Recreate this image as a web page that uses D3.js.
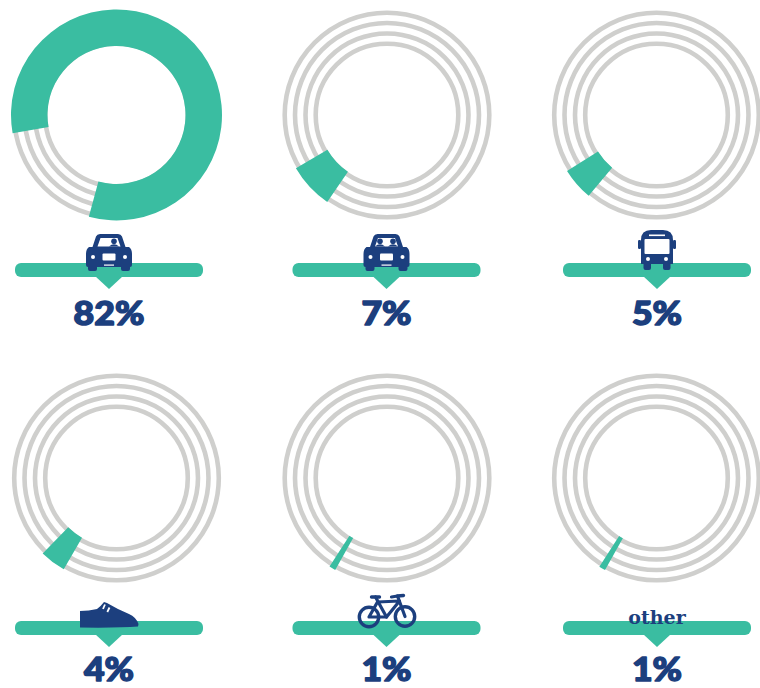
<!DOCTYPE html>
<html>
<head>
<meta charset="utf-8">
<title>How people get to work</title>
<script src="https://cdn.jsdelivr.net/npm/d3@7"></script>
<style>
  html, body { margin: 0; padding: 0; background: #fff; }
  svg { display: block; }
  .pct { font-family: Lato, "Open Sans", sans-serif; font-weight: 900; font-size: 33px; fill: #1c3f7e; stroke: #1c3f7e; stroke-width: 1.5px; stroke-linejoin: round; text-anchor: middle; }
  .word { font-family: "DejaVu Serif", serif; font-weight: 700; font-size: 19px; fill: #1c3f7e; text-anchor: middle; }
</style>
</head>
<body>
<svg id="chart" width="760" height="688"></svg>
<script>
// Commute modes and their share of trips, in percent
const modes = ["car alone", "carpool", "bus", "walk", "bike", "other"];
const shares = [82, 7, 5, 4, 1, 1];
// Where each share's arc begins, in degrees clockwise from twelve o'clock
const arcStarts = [260, 214.5, 220, 210, 209.4, 209.2];
// Centres of the gray track rings
const ringColumns = [116.5, 387, 656.5];
const ringRows = [115, 478];
const trackRadii = [71.3, 81.5, 92, 102.3];

// Label banner layout per grid cell
const bannerLeft = [15, 292.5, 563];
const bannerTop = [263, 621];
const textBaseline = [324.5, 681];

const TEAL = "#3abda1", GRAY = "#cfcfcd", NAVY = "#1c3f7e";
const bannerWidth = 188, bannerHeight = 14;

const angle = d3.scaleLinear().domain([0, 100]).range([0, 2 * Math.PI]);
const band = d3.arc().innerRadius(69).outerRadius(105.5);
const svg = d3.select("#chart");

// Front view of a car; riders sets who sits behind the windscreen
function car(g, riders) {
  g.append("path").attr("fill", NAVY).attr("d",
    "M-16.5,13 L-13,2.5 Q-12,0 -9,0 L9,0 Q12,0 13,2.5 L16.5,13 L20,13 Q23,15 23,20 L23,31 Q23,33 21,33 L21,35 Q21,37 19,37 L14,37 Q12,37 12,35 L12,33 L-12,33 L-12,35 Q-12,37 -14,37 L-19,37 Q-21,37 -21,35 L-21,33 Q-23,33 -23,31 L-23,20 Q-23,15 -20,13 Z");
  g.append("path").attr("fill", "#fff").attr("d", "M-11.5,12.5 L-8.5,4 L8.5,4 L11.5,12.5 Z");
  riders.forEach(x => {
    g.append("circle").attr("cx", x).attr("cy", 7.2).attr("r", 2.8).attr("fill", NAVY);
    g.append("path").attr("fill", NAVY).attr("d", `M${x - 5},12.6 Q${x},8 ${x + 5},12.6 Z`);
  });
  g.selectAll("circle.lamp").data([-16, 16]).join("circle").attr("class", "lamp")
    .attr("cx", d => d).attr("cy", 23).attr("r", 2).attr("fill", "#fff");
  g.append("rect").attr("x", -6.5).attr("y", 19.5).attr("width", 13).attr("height", 7).attr("rx", 1).attr("fill", "#fff");
  g.append("rect").attr("x", -5).attr("y", 30.5).attr("width", 10).attr("height", 1.2).attr("fill", "#fff");
}

function bus(g) {
  g.append("path").attr("fill", NAVY).attr("d",
    "M-16,10 Q-16,0 -6,0 L6,0 Q16,0 16,10 L16,34 L13.5,34 L13.5,38 Q13.5,40 11.5,40 L8,40 Q6,40 6,38 L6,34 L-6,34 L-6,38 Q-6,40 -8,40 L-11.5,40 Q-13.5,40 -13.5,38 L-13.5,34 L-16,34 Z");
  g.append("rect").attr("x", -19).attr("y", 10).attr("width", 3).attr("height", 9).attr("rx", 1.2).attr("fill", NAVY);
  g.append("rect").attr("x", 16).attr("y", 10).attr("width", 3).attr("height", 9).attr("rx", 1.2).attr("fill", NAVY);
  g.append("rect").attr("x", -12.5).attr("y", 9).attr("width", 25).attr("height", 15).attr("rx", 1).attr("fill", "#fff");
  g.append("rect").attr("x", -8).attr("y", 4.5).attr("width", 16).attr("height", 1.6).attr("fill", "#fff");
  g.selectAll("circle.lamp").data([-9, 9]).join("circle").attr("class", "lamp")
    .attr("cx", d => d).attr("cy", 29).attr("r", 2).attr("fill", "#fff");
}

// Side view of a lace-up shoe, toe to the right
function shoe(g) {
  g.append("path").attr("fill", NAVY).attr("d",
    "M-29,8 Q-20,8 -12,6 Q-8,3 -5,-1 L-2,0 Q8,6 20,11 Q27,14 29.5,21 L29,23.5 Q10,25 -29,24.5 Z");
  [[-4, 1.5, -6, 6], [0.5, 4.5, -1.7, 9]].forEach(([x1, y1, x2, y2]) =>
    g.append("line").attr("x1", x1).attr("y1", y1).attr("x2", x2).attr("y2", y2)
      .attr("stroke", "#fff").attr("stroke-width", 1.8));
}

function bike(g) {
  const line = (d, w) => g.append("path").attr("d", d).attr("fill", "none")
    .attr("stroke", NAVY).attr("stroke-width", w).attr("stroke-linejoin", "round").attr("stroke-linecap", "round");
  [[-17.5, 23], [18.5, 22.5]].forEach(([x, y]) => g.append("circle").attr("cx", x).attr("cy", y).attr("r", 9.7)
    .attr("fill", "none").attr("stroke", NAVY).attr("stroke-width", 3.4));
  line("M-17.5,23 L-9,8 L13,7 L0,23 Z", 3.2);
  line("M-11,3 L0,23", 3.2);
  line("M-15,3 L-7,3", 3.4);
  line("M18.5,22.5 L11,2 L5,3", 3.2);
  line("M11,2 L17,1.5", 3.4);
}

const icons = [
  g => car(g, [5]),
  g => car(g, [-6.5, 6.5]),
  bus,
  shoe,
  bike,
  g => g.append("text").attr("class", "word").attr("y", 0).text("other")
];
// Icon anchors relative to the banner's pointer and top edge
const iconLift = [-29, -29, -33, -18, -27, 3];

modes.forEach((mode, i) => {
  const col = i % 3, row = Math.floor(i / 3);
  const cx = ringColumns[col], cy = ringRows[row];
  const cell = svg.append("g").attr("class", "cell").attr("data-mode", mode);

  // Gray tracks, then the share laid over them
  const rings = cell.append("g").attr("transform", `translate(${cx},${cy})`);
  rings.selectAll("circle").data(trackRadii).join("circle")
    .attr("r", d => d).attr("fill", "none").attr("stroke", GRAY).attr("stroke-width", 4.6);
  const start = arcStarts[i] * Math.PI / 180;
  rings.append("path").attr("fill", TEAL)
    .attr("d", band({ startAngle: start, endAngle: start + angle(shares[i]) }));

  // Banner with its downward pointer
  const left = bannerLeft[col], top = bannerTop[row], mid = left + bannerWidth / 2;
  cell.append("rect").attr("x", left).attr("y", top)
    .attr("width", bannerWidth).attr("height", bannerHeight).attr("rx", 6).attr("fill", TEAL);
  cell.append("path").attr("fill", TEAL)
    .attr("d", `M${mid - 14},${top + bannerHeight - 1} L${mid + 14},${top + bannerHeight - 1} L${mid},${top + bannerHeight + 12} Z`);

  const icon = cell.append("g").attr("transform", `translate(${mid},${top + iconLift[i]})`);
  icons[i](icon);

  // Wide, heavy percentage figure
  cell.append("text").attr("class", "pct")
    .attr("transform", `translate(${mid},${textBaseline[row]}) scale(1.08,1)`)
    .text(shares[i] + "%");
});
</script>
</body>
</html>
